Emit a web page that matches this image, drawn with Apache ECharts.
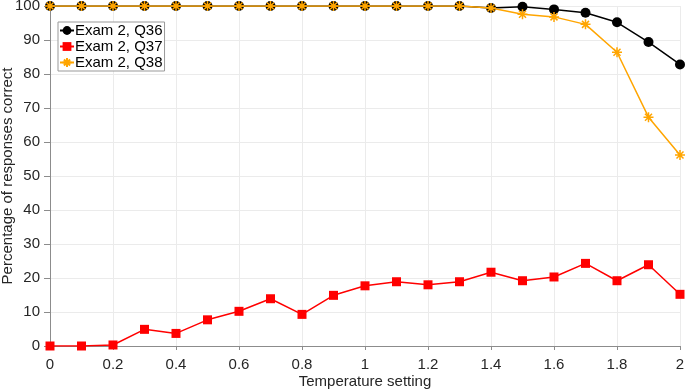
<!DOCTYPE html>
<html>
<head>
<meta charset="utf-8">
<script src="https://cdn.jsdelivr.net/npm/echarts@6/dist/echarts.min.js"></script>
<style>
  html, body { margin: 0; padding: 0; background: #fff; }
  #chart { width: 685px; height: 391px; }
</style>
</head>
<body>
<div id="chart"></div>
<script>
// temperature settings (x)
const temps = [0, 0.1, 0.2, 0.3, 0.4, 0.5, 0.6, 0.7, 0.8, 0.9, 1.0,
  1.1, 1.2, 1.3, 1.4, 1.5, 1.6, 1.7, 1.8, 1.9, 2.0];

// percentage correct for each question
const q36 = [100, 100, 100, 100, 100, 100, 100, 100, 100, 100, 100,
  100, 100, 100, 99.4, 99.8, 99.0, 98.0, 95.2, 89.4, 82.8];
const q37 = [0, 0, 0.3, 4.9, 3.7, 7.7, 10.2, 13.9, 9.3, 14.9, 17.7,
  18.9, 18.0, 18.9, 21.7, 19.2, 20.3, 24.3, 19.2, 23.9, 15.2];
const q38 = [100, 100, 100, 100, 100, 100, 100, 100, 100, 100, 100,
  100, 100, 100, 99.4, 97.6, 96.8, 94.6, 86.4, 67.3, 56.2];

const seriesNames = ["Exam 2, Q36", "Exam 2, Q37", "Exam 2, Q38"];

const pairs = (ys) => temps.map((t, i) => [t, ys[i]]);

const asterisk = "path://M5,0L5,10M0,5L10,5M1.5,1.5L8.5,8.5M8.5,1.5L1.5,8.5";

const fontFamily = "Liberation Sans, Arial, sans-serif";
const labelColor = "#262626";
const axisColor = "#8c8c8c";
const gridColor = "#ebebeb";

const chart = echarts.init(document.getElementById("chart"));

const option = {
  animation: false,
  textStyle: { fontFamily: fontFamily },
  grid: { left: 50, right: 5, top: 6, bottom: 45, outerBoundsMode: "none" },
  legend: {
    orient: "vertical",
    left: 58,
    top: 22,
    itemWidth: 14,
    itemHeight: 11,
    itemGap: 1,
    padding: [1, 2, 1, 1],
    backgroundColor: "#fff",
    borderColor: "#999",
    borderWidth: 1,
    borderRadius: 0,
    textStyle: { fontSize: 15, color: "#000", padding: [0, 0, 0, -4] },
    data: seriesNames
  },
  xAxis: [
    {
      type: "value",
      min: 0,
      max: 2,
      interval: 0.2,
      name: "Temperature setting",
      nameLocation: "middle",
      nameGap: 28,
      nameMoveOverlap: false,
      nameTextStyle: { fontSize: 15, color: labelColor },
      axisLine: { show: true, lineStyle: { color: axisColor, width: 1 } },
      axisTick: { show: true, inside: false, length: 4, lineStyle: { color: axisColor } },
      axisLabel: { fontSize: 15, color: labelColor, margin: 11 },
      splitLine: { show: true, lineStyle: { color: gridColor, width: 1 } }
    },
    {
      type: "value",
      position: "top",
      min: 0,
      max: 2,
      interval: 0.2,
      axisLine: { show: true, lineStyle: { color: axisColor, width: 1 } },
      axisTick: { show: true, inside: true, length: 4, lineStyle: { color: axisColor } },
      axisLabel: { show: false },
      splitLine: { show: false }
    }
  ],
  yAxis: [
    {
      type: "value",
      min: 0,
      max: 100,
      interval: 10,
      name: "Percentage of responses correct",
      nameLocation: "middle",
      nameGap: 35,
      nameMoveOverlap: false,
      nameTextStyle: { fontSize: 15, color: labelColor },
      axisLine: { show: true, lineStyle: { color: axisColor, width: 1 } },
      axisTick: { show: true, inside: false, length: 6, lineStyle: { color: axisColor } },
      axisLabel: { fontSize: 15, color: labelColor, margin: 10 },
      splitLine: { show: true, lineStyle: { color: gridColor, width: 1 } }
    },
    {
      type: "value",
      position: "right",
      min: 0,
      max: 100,
      interval: 10,
      axisLine: { show: true, lineStyle: { color: axisColor, width: 1 } },
      axisTick: { show: true, inside: true, length: 4, lineStyle: { color: axisColor } },
      axisLabel: { show: false },
      splitLine: { show: false }
    }
  ],
  series: [
    {
      name: seriesNames[0],
      type: "line",
      data: pairs(q36),
      symbol: "circle",
      symbolSize: 10,
      showAllSymbol: true,
      itemStyle: { color: "#000" },
      lineStyle: { color: "#000", width: 1.5 },
      z: 2
    },
    {
      name: seriesNames[1],
      type: "line",
      data: pairs(q37),
      symbol: "rect",
      symbolSize: 9,
      showAllSymbol: true,
      itemStyle: { color: "#ff0000" },
      lineStyle: { color: "#ff0000", width: 1.5 },
      z: 3
    },
    {
      name: seriesNames[2],
      type: "line",
      data: pairs(q38),
      symbol: asterisk,
      symbolSize: 10,
      showAllSymbol: true,
      itemStyle: { color: "#ffa500", borderColor: "#ffa500", borderWidth: 1.5 },
      lineStyle: { color: "#ffa500", width: 1.5 },
      z: 4
    }
  ]
};

chart.setOption(option);
</script>
</body>
</html>
